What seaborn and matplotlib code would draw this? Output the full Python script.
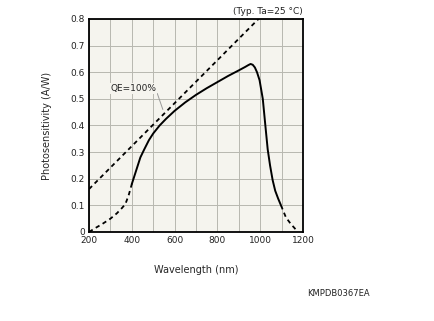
import matplotlib
matplotlib.use("Agg")
import matplotlib.pyplot as plt
import seaborn as sns

# QE = 100% reference line
qe_wl = [200, 1200]
qe_val = [0.161, 0.968]

# measured photosensitivity (solid)
solid_wl = [400, 420, 440, 458, 480, 500, 530, 560, 600, 650, 700, 750, 800, 850, 900, 930, 945, 955, 965, 975, 985, 997, 1012, 1024, 1035, 1046, 1058, 1070, 1084, 1097]
solid_val = [0.18, 0.23, 0.28, 0.31, 0.345, 0.37, 0.40, 0.425, 0.455, 0.487, 0.515, 0.54, 0.563, 0.586, 0.607, 0.62, 0.627, 0.631, 0.628, 0.618, 0.60, 0.57, 0.50, 0.40, 0.31, 0.25, 0.195, 0.155, 0.125, 0.10]

# extrapolated parts (dashed)
low_wl = [200, 230, 262, 300, 330, 354, 370, 377, 386, 393, 400]
low_val = [0.0, 0.015, 0.03, 0.05, 0.07, 0.09, 0.105, 0.12, 0.14, 0.16, 0.18]
high_wl = [1097, 1120, 1143, 1160, 1175]
high_val = [0.10, 0.055, 0.03, 0.015, 0.0]

x_ticks = [200, 400, 600, 800, 1000, 1200]
y_ticks = [0, 0.1, 0.2, 0.3, 0.4, 0.5, 0.6, 0.7, 0.8]
y_ticklabels = ["0", "0.1", "0.2", "0.3", "0.4", "0.5", "0.6", "0.7", "0.8"]

sns.set_style("white")
plt.rcParams['font.family'] = ['DejaVu Sans']

fig = plt.figure(figsize=(4.35, 3.21), dpi=100)
ax = fig.add_axes([0.2046, 0.2773, 0.492, 0.6636])
ax.set_facecolor("#f5f4ee")

dash = (2.4, 2.0)
sns.lineplot(x=qe_wl, y=qe_val, ax=ax, color="black", lw=1.3, linestyle=(0, dash))
sns.lineplot(x=low_wl, y=low_val, ax=ax, color="black", lw=1.3, linestyle=(0, dash))
sns.lineplot(x=high_wl, y=high_val, ax=ax, color="black", lw=1.3, linestyle=(0, dash))
sns.lineplot(x=solid_wl, y=solid_val, ax=ax, color="black", lw=1.4)

ax.set_xlim(200, 1200)
ax.set_ylim(0, 0.8)
ax.set_xticks(x_ticks)
ax.set_xticks(range(200, 1201, 100), minor=True)
ax.set_yticks(y_ticks)
ax.set_yticklabels(y_ticklabels)
ax.grid(True, which="both", color="#b8b8b0", lw=0.7)
ax.tick_params(which="both", length=0, labelsize=6.5, colors="#222222", pad=3)
for s in ax.spines.values():
    s.set_color("black")
    s.set_linewidth(1.3)

ax.set_xlabel("Wavelength (nm)", fontsize=7, labelpad=14)
ax.set_ylabel("Photosensitivity (A/W)", fontsize=7, labelpad=13)

ax.annotate("QE=100%", xy=(545, 0.46), xytext=(300, 0.54), fontsize=6.5,
            color="#222222", va="center",
            arrowprops=dict(arrowstyle="-", color="#999999", lw=0.7,
                            shrinkA=0, shrinkB=0, relpos=(1.0, 0.2)),
            bbox=dict(boxstyle="square,pad=0.1", fc="#f5f4ee", ec="none"))

ax.text(1.0, 1.012, "(Typ. Ta=25 °C)", transform=ax.transAxes, ha="right",
        va="bottom", fontsize=6.5, color="#222222")
fig.text(0.705, 0.085, "KMPDB0367EA", fontsize=6, color="#222222", ha="left", va="center")

fig.savefig("out.png", dpi=100, facecolor="white")
